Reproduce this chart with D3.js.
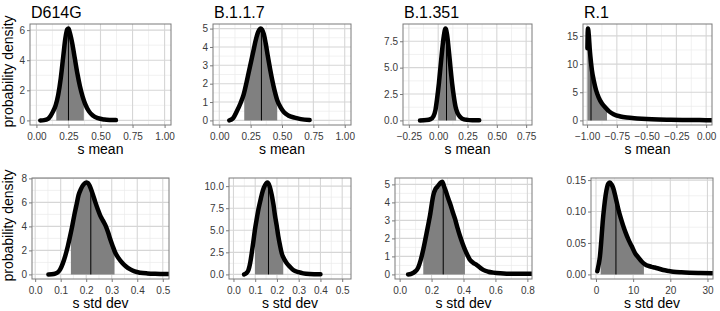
<!DOCTYPE html>
<html>
<head>
<meta charset="utf-8">
<script src="https://cdn.jsdelivr.net/npm/d3@7"></script>
<style>
  body { margin: 0; background: #fff; }
  text { font-family: "Liberation Sans", Arial, Helvetica, sans-serif; }
</style>
</head>
<body>
<svg id="chart" width="720" height="311"></svg>
<script>
const variants = ["D614G", "B.1.1.7", "B.1.351", "R.1"];

// posterior densities of s mean, [s, density]
const meanD614G = [[0.03,0],[0.06,0.02],[0.09,0.1],[0.11,0.3],[0.13,0.6],[0.15,1.0],[0.17,1.7],[0.19,2.8],[0.21,4.3],[0.225,5.4],[0.24,6.05],[0.25,6.1],[0.26,5.85],[0.28,5.1],[0.30,4.1],[0.32,3.1],[0.34,2.25],[0.36,1.6],[0.38,1.1],[0.41,0.6],[0.44,0.33],[0.48,0.15],[0.53,0.06],[0.58,0.03],[0.62,0.02]];
const meanB117 = [[0.08,0],[0.11,0.12],[0.14,0.5],[0.17,0.95],[0.194,1.4],[0.215,2.0],[0.234,2.6],[0.255,3.25],[0.274,3.85],[0.29,4.35],[0.306,4.75],[0.32,4.95],[0.33,5.0],[0.34,4.95],[0.355,4.7],[0.37,4.2],[0.387,3.5],[0.405,2.8],[0.422,2.2],[0.44,1.65],[0.462,1.1],[0.49,0.7],[0.516,0.45],[0.55,0.27],[0.6,0.15],[0.65,0.07],[0.72,0.02]];
const meanB1351 = [[-0.155,0],[-0.1,0.03],[-0.065,0.12],[-0.04,0.4],[-0.023,1.0],[-0.01,2.0],[0.006,3.5],[0.02,5.1],[0.034,6.7],[0.048,8.0],[0.0625,8.7],[0.076,8.1],[0.09,6.7],[0.105,5.0],[0.119,3.5],[0.133,2.3],[0.148,1.3],[0.165,0.7],[0.19,0.3],[0.22,0.1],[0.25,0.05],[0.3,0.02],[0.35,0.01]];
const meanR1 = [[-0.997,12.8],[-0.995,15.5],[-0.992,16.3],[-0.985,15.0],[-0.978,12.8],[-0.972,11.3],[-0.96,9.0],[-0.944,7.1],[-0.925,5.4],[-0.903,4.1],[-0.875,3.0],[-0.847,2.3],[-0.815,1.6],[-0.778,1.1],[-0.72,0.7],[-0.667,0.5],[-0.58,0.35],[-0.5,0.25],[-0.4,0.17],[-0.3,0.12],[-0.2,0.09],[-0.1,0.07],[0.0,0.05],[0.05,0.05]];

// posterior densities of s std dev
const sdD614G = [[0.052,0],[0.065,0.01],[0.0785,0.06],[0.09,0.2],[0.098,0.42],[0.108,0.9],[0.118,1.55],[0.128,2.35],[0.137,3.2],[0.145,4.0],[0.153,4.9],[0.162,5.8],[0.17,6.6],[0.18,7.15],[0.19,7.5],[0.2,7.65],[0.207,7.6],[0.218,7.15],[0.227,6.6],[0.236,6.0],[0.245,5.45],[0.255,4.9],[0.265,4.5],[0.275,4.1],[0.285,3.55],[0.294,2.95],[0.304,2.35],[0.314,1.8],[0.327,1.35],[0.34,1.0],[0.355,0.68],[0.373,0.42],[0.39,0.25],[0.412,0.14],[0.44,0.08],[0.47,0.05],[0.5,0.04],[0.53,0.03]];
const sdB117 = [[0.049,0],[0.058,0.12],[0.069,0.5],[0.077,1.3],[0.084,2.4],[0.092,3.8],[0.099,5.1],[0.107,6.3],[0.115,7.4],[0.125,8.5],[0.135,9.5],[0.145,10.1],[0.156,10.4],[0.166,10.0],[0.176,9.0],[0.184,7.9],[0.191,6.65],[0.199,5.5],[0.206,4.35],[0.214,3.3],[0.222,2.4],[0.233,1.75],[0.245,1.27],[0.26,0.85],[0.275,0.5],[0.3,0.25],[0.321,0.12],[0.35,0.05],[0.4,0.02]];
const sdB1351 = [[0.053,0],[0.07,0.02],[0.084,0.08],[0.1,0.18],[0.116,0.38],[0.132,0.8],[0.148,1.38],[0.169,2.3],[0.19,3.26],[0.211,4.4],[0.225,4.75],[0.236,4.87],[0.253,5.06],[0.267,5.15],[0.278,4.9],[0.29,4.6],[0.305,4.2],[0.32,3.83],[0.333,3.45],[0.347,3.08],[0.362,2.6],[0.378,2.13],[0.393,1.75],[0.409,1.38],[0.425,1.07],[0.44,0.81],[0.46,0.65],[0.482,0.53],[0.503,0.38],[0.524,0.25],[0.555,0.15],[0.587,0.1],[0.63,0.06],[0.67,0.04],[0.75,0.03],[0.83,0.03]];
const sdR1 = [[0.36,0.005],[0.7,0.015],[1.07,0.029],[1.45,0.055],[1.8,0.083],[2.2,0.107],[2.6,0.126],[3.0,0.139],[3.3,0.144],[3.76,0.146],[4.2,0.143],[4.66,0.137],[5.3,0.122],[6.0,0.104],[6.7,0.089],[7.34,0.077],[8.0,0.066],[8.68,0.056],[9.6,0.045],[10.5,0.034],[11.4,0.027],[12.3,0.0205],[13.2,0.016],[14.1,0.0135],[15.0,0.012],[15.8,0.011],[17.0,0.009],[18.1,0.007],[19.5,0.0055],[20.8,0.0043],[23,0.0033],[25.2,0.0027],[28,0.0023],[31.3,0.002]];

const meanCurves = [meanD614G, meanB117, meanB1351, meanR1];
const sdCurves = [sdD614G, sdB117, sdB1351, sdR1];

// credible interval (shaded) and median
const meanLow = [0.155, 0.199, 0.0, -1.0];
const meanHigh = [0.37, 0.462, 0.153, -0.833];
const meanMid = [0.25, 0.336, 0.071, -0.967];
const sdLow = [0.14, 0.099, 0.148, 1.25];
const sdHigh = [0.311, 0.229, 0.409, 12.9];
const sdMid = [0.218, 0.161, 0.273, 5.37];

// axis limits (before ggplot-style 5% expansion) and ticks
const meanXLim = [[0, 1], [0, 1], [-0.25, 0.75], [-0.985, 0]];
const sdXLim = [[0.012, 0.5], [0.005, 0.515], [0.01, 0.79], [0.15, 30]];
const meanYMax = [6.1, 5.0, 8.7, 16.3];
const sdYMax = [7.65, 10.4, 5.1, 0.146];

const meanXTicks = [[0, 0.25, 0.5, 0.75, 1], [0, 0.25, 0.5, 0.75, 1], [-0.25, 0, 0.25, 0.5, 0.75], [-1, -0.75, -0.5, -0.25, 0]];
const sdXTicks = [[0, 0.1, 0.2, 0.3, 0.4, 0.5], [0, 0.1, 0.2, 0.3, 0.4, 0.5], [0, 0.2, 0.4, 0.6, 0.8], [0, 10, 20, 30]];
const meanYTicks = [[0, 2, 4, 6], [0, 1, 2, 3, 4, 5], [0, 2.5, 5, 7.5], [0, 5, 10, 15]];
const sdYTicks = [[0, 2, 4, 6, 8], [0, 2.5, 5, 7.5, 10], [0, 1, 2, 3, 4, 5], [0, 0.05, 0.1, 0.15]];
const meanXFmt = [".2f", ".2f", ".2f", ".2f"];
const sdXFmt = [".1f", ".1f", ".1f", "d"];
const meanYFmt = ["d", "d", ".1f", "d"];
const sdYFmt = ["d", ".1f", "d", ".2f"];

// layout
const rowTop = [24, 178];
const rowBottom = [125, 279];
const panelLeft = [[30, 213, 403, 583], [32, 229, 395, 591]];
const panelRight = [[171, 351, 532, 712], [169, 351, 532, 713]];

const borderColor = "#7a7a7a";
const svg = d3.select("#chart");

function expand([a, b]) {
    const r = b - a;
    return [a - 0.05 * r, b + 0.05 * r];
}

function minorBreaks(ticks, domain) {
    const step = ticks[1] - ticks[0];
    const out = [];
    for (let i = -1; i < ticks.length; i++) out.push(ticks[0] + (i + 0.5) * step);
    return out.filter(v => v > domain[0] && v < domain[1]);
}

function densityAt(curve, v) {
    const i = d3.bisector(d => d[0]).left(curve, v);
    if (i <= 0) return curve[0][1];
    if (i >= curve.length) return curve[curve.length - 1][1];
    const [x0, y0] = curve[i - 1], [x1, y1] = curve[i];
    return y0 + (y1 - y0) * (v - x0) / (x1 - x0);
}

function drawPanel(id, p) {
    const x = d3.scaleLinear().domain(expand(p.xLim)).range([p.x0, p.x1]);
    const y = d3.scaleLinear().domain([-0.05 * p.yMax, 1.05 * p.yMax]).range([p.y1, p.y0]);
    const g = svg.append("g");

    svg.append("clipPath").attr("id", "panel" + id)
        .append("rect").attr("x", p.x0).attr("y", p.y0)
        .attr("width", p.x1 - p.x0).attr("height", p.y1 - p.y0);
    svg.append("clipPath").attr("id", "ci" + id)
        .append("rect").attr("x", x(p.lo)).attr("y", p.y0)
        .attr("width", x(p.hi) - x(p.lo)).attr("height", p.y1 - p.y0);

    // grid
    const grid = g.append("g");
    grid.selectAll(".minx").data(minorBreaks(p.xTicks, x.domain())).join("line")
        .attr("x1", d => x(d)).attr("x2", d => x(d)).attr("y1", p.y0).attr("y2", p.y1)
        .attr("stroke", "#ebebeb").attr("stroke-width", 0.7);
    grid.selectAll(".miny").data(minorBreaks(p.yTicks, y.domain())).join("line")
        .attr("y1", d => y(d)).attr("y2", d => y(d)).attr("x1", p.x0).attr("x2", p.x1)
        .attr("stroke", "#ebebeb").attr("stroke-width", 0.7);
    grid.selectAll(".majx").data(p.xTicks).join("line")
        .attr("x1", d => x(d)).attr("x2", d => x(d)).attr("y1", p.y0).attr("y2", p.y1)
        .attr("stroke", "#d6d6d6").attr("stroke-width", 1.1);
    grid.selectAll(".majy").data(p.yTicks).join("line")
        .attr("y1", d => y(d)).attr("y2", d => y(d)).attr("x1", p.x0).attr("x2", p.x1)
        .attr("stroke", "#d6d6d6").attr("stroke-width", 1.1);

    // shaded interval
    const area = d3.area().x(d => x(d[0])).y0(y(0)).y1(d => y(d[1])).curve(d3.curveMonotoneX);
    g.append("g").attr("clip-path", `url(#panel${id})`)
        .append("path").datum(p.curve)
        .attr("clip-path", `url(#ci${id})`)
        .attr("d", area).attr("fill", "#808080");

    // median line
    g.append("line")
        .attr("x1", x(p.mid)).attr("x2", x(p.mid))
        .attr("y1", y(0)).attr("y2", y(densityAt(p.curve, p.mid)))
        .attr("stroke", "#000").attr("stroke-width", 1);

    // density curve
    const line = d3.line().x(d => x(d[0])).y(d => y(d[1])).curve(d3.curveMonotoneX);
    g.append("path").datum(p.curve)
        .attr("clip-path", `url(#panel${id})`)
        .attr("d", line).attr("fill", "none")
        .attr("stroke", "#000").attr("stroke-width", 4.5)
        .attr("stroke-linecap", "round").attr("stroke-linejoin", "round");

    // border
    g.append("rect").attr("x", p.x0).attr("y", p.y0)
        .attr("width", p.x1 - p.x0).attr("height", p.y1 - p.y0)
        .attr("fill", "none").attr("stroke", borderColor).attr("stroke-width", 1);

    // axes
    const ax = g.append("g").attr("transform", `translate(0,${p.y1})`)
        .call(d3.axisBottom(x).tickValues(p.xTicks).tickFormat(d3.format(p.xFmt)).tickSize(3).tickPadding(5));
    const ay = g.append("g").attr("transform", `translate(${p.x0},0)`)
        .call(d3.axisLeft(y).tickValues(p.yTicks).tickFormat(d3.format(p.yFmt)).tickSize(3).tickPadding(2));
    [ax, ay].forEach(a => {
        a.select(".domain").remove();
        a.selectAll(".tick line").attr("stroke", borderColor);
        a.selectAll(".tick text").attr("fill", "#3a3a3a").attr("font-size", 10)
            .attr("font-family", "Liberation Sans, Arial, sans-serif");
    });

    g.append("text")
        .attr("x", (p.x0 + p.x1) / 2).attr("y", p.y1 + 29)
        .attr("text-anchor", "middle").attr("font-size", 14).attr("fill", "#000")
        .text(p.xTitle);

    if (p.yTitle) {
        g.append("text")
            .attr("transform", `translate(12.5,${(p.y0 + p.y1) / 2 - 3}) rotate(-90)`)
            .attr("text-anchor", "middle").attr("font-size", 14).attr("fill", "#000")
            .text(p.yTitle);
    }
    if (p.title) {
        g.append("text")
            .attr("x", p.x0 + 1).attr("y", 18)
            .attr("font-size", 16).attr("fill", "#000")
            .text(p.title);
    }
}

variants.forEach((v, i) => {
    drawPanel("m" + i, {
        x0: panelLeft[0][i], x1: panelRight[0][i], y0: rowTop[0], y1: rowBottom[0],
        curve: meanCurves[i], xLim: meanXLim[i], yMax: meanYMax[i],
        xTicks: meanXTicks[i], yTicks: meanYTicks[i], xFmt: meanXFmt[i], yFmt: meanYFmt[i],
        lo: meanLow[i], hi: meanHigh[i], mid: meanMid[i],
        xTitle: "s mean", yTitle: i === 0 ? "probability density" : null, title: v
    });
    drawPanel("s" + i, {
        x0: panelLeft[1][i], x1: panelRight[1][i], y0: rowTop[1], y1: rowBottom[1],
        curve: sdCurves[i], xLim: sdXLim[i], yMax: sdYMax[i],
        xTicks: sdXTicks[i], yTicks: sdYTicks[i], xFmt: sdXFmt[i], yFmt: sdYFmt[i],
        lo: sdLow[i], hi: sdHigh[i], mid: sdMid[i],
        xTitle: "s std dev", yTitle: i === 0 ? "probability density" : null, title: null
    });
});
</script>
</body>
</html>
